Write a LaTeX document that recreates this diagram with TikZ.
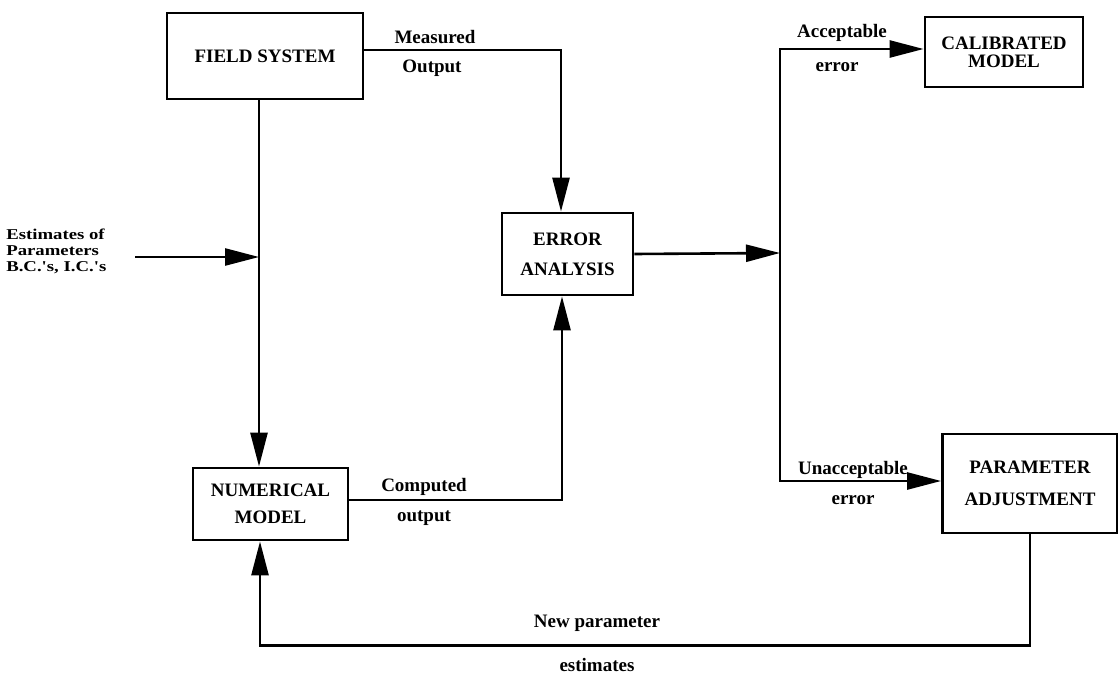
\documentclass[tikz,border=0pt]{standalone}
\usepackage{fontspec}
\setmainfont{Liberation Serif}
\newfontfamily\estfont[FakeStretch=1.25]{Liberation Serif}
\usetikzlibrary{arrows.meta}
\tikzset{every picture/.style={line width=2.6pt}}
\tikzset{
  box/.style={draw, line width=2.8pt, align=center, inner sep=2pt},
  lbl/.style={font=\bfseries\fontsize{19}{21}\selectfont, inner sep=0pt}
}

\begin{document}
\begin{tikzpicture}[x=1pt, y=-1pt, >={Triangle[length=34pt,width=17pt]},
    every node/.style={font=\bfseries\fontsize{19}{21}\selectfont}]
        \useasboundingbox (0,0) rectangle (1118,677);
        % boxes
        \node[box, minimum width=196, minimum height=86] (field) at (265,56) {FIELD SYSTEM};
        \node[box, minimum width=131, minimum height=82] (err) at (567.5,254) {ERROR\\[9pt]ANALYSIS};
        \node[box, minimum width=155, minimum height=72] (num) at (270.5,504) {NUMERICAL\\[6pt]MODEL};
        \node[box, minimum width=158, minimum height=70] (cal) at (1004,52) {CALIBRATED\\[-3pt]MODEL};
        \node[box, minimum width=175, minimum height=99] (par) at (1030,483.5) {PARAMETER\\[11pt]ADJUSTMENT};
        % inputs
        \node[anchor=west, align=left, inner sep=0pt, font=\estfont\bfseries\fontsize{15}{16}\selectfont] (est) at (5,251)
            {Estimates of\\Parameters\\B.C.'s, I.C.'s};
        \coordinate (ein) at (135,257);
        \coordinate (jin) at (259,257);
        \coordinate (split) at (780,253);
        % measured and computed output
        \draw[->] ([yshift=6pt]field.east) -| ([xshift=-6.5pt]err.north);
        \draw[->] ([xshift=-6pt]field.south) -- ([xshift=-6pt]field.south |- num.north);
        \draw[->] (ein) -- (jin);
        \draw[->] ([yshift=4pt]num.east) -| ([xshift=-5.5pt]err.south);
        % error check
        \draw[->] (err.east) -- (split);
        \draw[->] (split) |- ([yshift=3pt]cal.west);
        \draw[->] (split) |- ([yshift=2.5pt]par.west);
        % new estimates back to the model
        \draw[->] (par.south) -- ++(0,111) -| ([xshift=-10.5pt]num.south);
        % labels
        \node[lbl] (lmeas) at (435,37) {Measured};
        \node[lbl] (lout) at (432,68) {Output};
        \node[lbl] (lacc) at (842,33) {Acceptable};
        \node[lbl] (laccerr) at (837,67) {error};
        \node[lbl] (lcomp) at (424,487) {Computed};
        \node[lbl] (lcout) at (424,518) {output};
        \node[lbl] (lunacc) at (853,470) {Unacceptable};
        \node[lbl] (lunerr) at (853,500) {error};
        \node[lbl] (lnew) at (597,623) {New parameter};
        \node[lbl] (lest) at (597,665) {estimates};
    \end{tikzpicture}
\end{document}
